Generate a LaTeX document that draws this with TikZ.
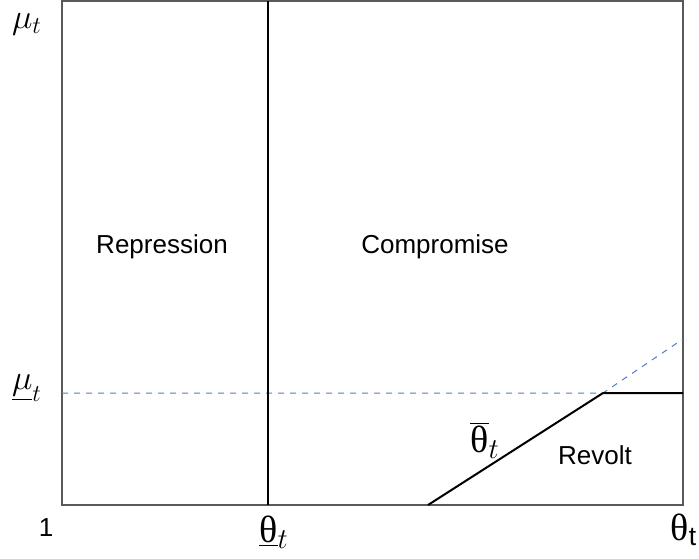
\documentclass[tikz,border=0pt]{standalone}
\usepackage{fontspec}
\setmainfont{Liberation Sans}
\newfontfamily\grk{Liberation Serif}
\definecolor{guideblue}{RGB}{84,124,196}
\begin{document}
\begin{tikzpicture}[x=0.5pt,y=-0.5pt,
  frame/.style={draw=black!65,line width=0.8pt},
  bound/.style={line width=1.2pt},
  guide/.style={draw=guideblue,dashed,line width=0.5pt},
  region/.style={font=\fontsize{13}{15}\selectfont},
  symlab/.style={font=\fontsize{19}{21}\selectfont,inner sep=0pt},
  mulab/.style={font=\fontsize{18}{20}\selectfont,inner sep=0pt}]
\useasboundingbox (0,0) rectangle (699,558);
% box and boundaries
\draw[frame] (62,1) rectangle (683,505);
\coordinate (top) at (268,1);
\coordinate (bot) at (268,505);
\coordinate (dl) at (62,393);
\coordinate (kink) at (603,393);
\coordinate (dr) at (683,393);
\coordinate (foot) at (428,505);
\coordinate (ext) at (683,339);
\draw[guide] (dl) -- (kink) -- (ext);
\draw[bound] (top) -- (bot);
\draw[line width=1pt] (foot) -- (kink) -- (dr);
% regions
\node[region] (rep) at (162,247) {Repression};
\node[region] (comp) at (435,247) {Compromise};
\node[region] (rev) at (595,455) {Revolt};
% axis labels
\node[mulab] (mu) at (27,24) {$\mu_t$};
\node[mulab] (mulow) at (27,388) {$\underline{\mu}_t$};
\node[region] (one) at (46,528) {1};
\node[symlab] (thlow) at (274,532) {$\underline{\hbox{\grk θ}}_t$};
\node[symlab] (thhigh) at (684,530) {$\hbox{\grk θ}_{\mathrm{t}}$};
\node[symlab] (thbar) at (485,440) {$\overline{\hbox{\grk θ}}_t$};
\end{tikzpicture}
\end{document}
